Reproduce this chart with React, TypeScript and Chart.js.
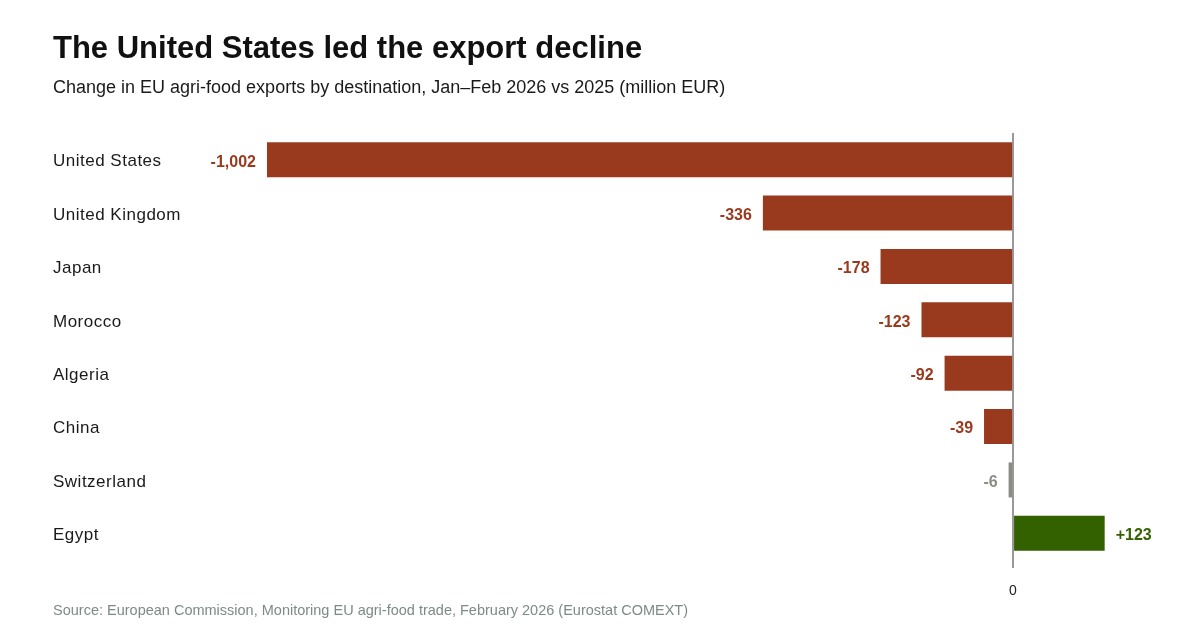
import React, { useEffect, useRef } from 'react';
import { Chart, registerables } from 'chart.js';

Chart.register(...registerables);

const categories = [
  'United States',
  'United Kingdom',
  'Japan',
  'Morocco',
  'Algeria',
  'China',
  'Switzerland',
  'Egypt',
];
const values = [-1002, -336, -178, -123, -92, -39, -6, 123];
const valueLabels = ['-1,002', '-336', '-178', '-123', '-92', '-39', '-6', '+123'];
const xTickValues = [0];
const xMin = -1100;
const xMax = 200;

const RED = '#993a1e';
const GREEN = '#336100';
const GRAY = '#8c8c86';
const FONT = '"Liberation Sans", Arial, sans-serif';

const colorFor = (v: number) => (Math.abs(v) < 10 ? GRAY : v < 0 ? RED : GREEN);

const letterSpacingPlugin = {
  id: 'letterSpacing',
  beforeDraw(chart: any) {
    (chart.ctx as any).letterSpacing = '0.5px';
  },
  beforeDatasetsDraw(chart: any) {
    (chart.ctx as any).letterSpacing = '0px';
  },
};

const valueLabelPlugin = {
  id: 'valueLabels',
  afterDatasetsDraw(chart: any) {
    const ctx = chart.ctx as CanvasRenderingContext2D;
    const meta = chart.getDatasetMeta(0);
    ctx.save();
    (ctx as any).letterSpacing = '0px';
    ctx.font = `bold 16px ${FONT}`;
    ctx.textBaseline = 'middle';
    meta.data.forEach((bar: any, i: number) => {
      const v = values[i];
      const { x, y } = bar.getProps(['x', 'y'], true);
      ctx.fillStyle = colorFor(v);
      if (v < 0) {
        ctx.textAlign = 'right';
        ctx.fillText(valueLabels[i], x - 11, y + 2.5);
      } else {
        ctx.textAlign = 'left';
        ctx.fillText(valueLabels[i], x + 11, y + 2.5);
      }
    });
    ctx.restore();
  },
};

function BarChart() {
  const ref = useRef<HTMLCanvasElement | null>(null);
  useEffect(() => {
    if (!ref.current) return;
    const chart = new Chart(ref.current, {
      type: 'bar',
      data: {
        labels: categories,
        datasets: [
          {
            data: values,
            backgroundColor: values.map(colorFor),
            borderWidth: 0,
            barPercentage: 0.656,
            categoryPercentage: 1,
          },
        ],
      },
      options: {
        indexAxis: 'y',
        animation: false,
        responsive: true,
        maintainAspectRatio: false,
        layout: { padding: { left: 53, top: 133, right: 38, bottom: 0 } },
        plugins: {
          legend: { display: false },
          tooltip: { enabled: false },
          title: { display: false },
        },
        scales: {
          x: {
            type: 'linear',
            min: xMin,
            max: xMax,
            afterBuildTicks(scale: any) {
              scale.ticks = xTickValues.map((value) => ({ value }));
            },
            afterFit(scale: any) {
              scale.height = 67;
            },
            grid: {
              color: '#999999',
              lineWidth: 2,
              tickLength: 8,
              drawTicks: true,
            },
            border: { display: false },
            ticks: {
              font: { family: FONT, size: 14 },
              color: '#222222',
              padding: 15,
              callback: (v: any) => String(v),
            },
          },
          y: {
            type: 'category',
            afterFit(scale: any) {
              scale.width = 141;
            },
            grid: { display: false },
            border: { display: false },
            ticks: {
              crossAlign: 'far',
              font: { family: FONT, size: 17 },
              color: '#1a1a1a',
              padding: 0,
              labelOffset: 2,
            },
          },
        },
      },
      plugins: [letterSpacingPlugin, valueLabelPlugin],
    });
    return () => chart.destroy();
  }, []);
  return <canvas ref={ref} />;
}

export default function App() {
  return (
    <div
      style={{
        position: 'absolute',
        left: 0,
        top: 0,
        width: 1200,
        height: 627,
        background: '#ffffff',
        fontFamily: FONT,
        overflow: 'hidden',
      }}
    >
      <div style={{ position: 'absolute', left: 0, top: 0, width: 1200, height: 627 }}>
        <BarChart />
      </div>
      <div
        style={{
          position: 'absolute',
          left: 53,
          top: 32,
          fontSize: 31,
          lineHeight: '31px',
          fontWeight: 'bold',
          color: '#111111',
          whiteSpace: 'nowrap',
        }}
      >
        The United States led the export decline
      </div>
      <div
        style={{
          position: 'absolute',
          left: 53,
          top: 78,
          fontSize: 18,
          lineHeight: '18px',
          color: '#1a1a1a',
          whiteSpace: 'nowrap',
        }}
      >
        Change in EU agri-food exports by destination, Jan–Feb 2026 vs 2025 (million EUR)
      </div>
      <div
        style={{
          position: 'absolute',
          left: 53,
          top: 603,
          fontSize: 14.5,
          lineHeight: '15px',
          color: '#7f8a86',
          whiteSpace: 'nowrap',
        }}
      >
        Source: European Commission, Monitoring EU agri-food trade, February 2026 (Eurostat COMEXT)
      </div>
    </div>
  );
}
